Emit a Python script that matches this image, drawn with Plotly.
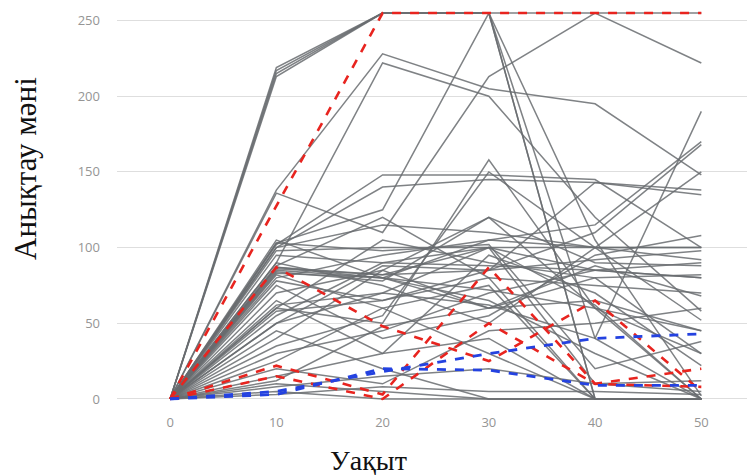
import plotly.graph_objects as go

x_vals = [0, 10, 20, 30, 40, 50]

gray_series = [
    [0, 219, 255, 255, 255, 255],
    [0, 217, 255, 255, 0, 0],
    [0, 215, 255, 255, 40, 0],
    [0, 213, 255, 255, 105, 2],
    [0, 138, 228, 205, 195, 148],
    [0, 90, 222, 200, 120, 58],
    [0, 136, 110, 213, 255, 222],
    [0, 103, 125, 255, 0, 0],
    [0, 60, 50, 158, 60, 0],
    [0, 102, 148, 148, 145, 100],
    [0, 100, 140, 145, 143, 138],
    [0, 98, 100, 100, 100, 100],
    [0, 87, 82, 85, 92, 98],
    [0, 85, 80, 105, 100, 100],
    [0, 87, 80, 65, 30, 0],
    [0, 86, 82, 100, 85, 80],
    [0, 84, 78, 120, 90, 88],
    [0, 82, 60, 30, 0, 0],
    [0, 80, 95, 105, 115, 170],
    [0, 78, 65, 85, 143, 135],
    [0, 75, 40, 55, 95, 108],
    [0, 70, 85, 120, 60, 45],
    [0, 65, 30, 40, 0, 0],
    [0, 60, 105, 90, 80, 82],
    [0, 58, 65, 80, 75, 70],
    [0, 55, 90, 100, 10, 5],
    [0, 50, 70, 62, 40, 190],
    [0, 45, 20, 0, 0, 0],
    [0, 40, 85, 60, 80, 30],
    [0, 35, 55, 150, 100, 52],
    [0, 30, 45, 70, 85, 90],
    [0, 25, 60, 75, 0, 0],
    [0, 20, 10, 45, 50, 60],
    [0, 15, 30, 95, 70, 22],
    [0, 12, 48, 60, 88, 68],
    [0, 10, 5, 0, 0, 0],
    [0, 8, 15, 20, 10, 12],
    [0, 5, 0, 0, 0, 0],
    [0, 3, 8, 5, 5, 3],
    [0, 103, 98, 102, 20, 38],
    [0, 100, 115, 110, 100, 92],
    [0, 95, 90, 88, 85, 80],
    [0, 88, 120, 80, 0, 0],
    [0, 105, 80, 60, 65, 45],
    [0, 90, 75, 50, 100, 150],
    [0, 83, 80, 72, 60, 30],
    [0, 62, 70, 100, 62, 0],
    [0, 50, 88, 85, 110, 168],
]

red_series = [
    [0, 127, 255, 255, 255, 255],
    [0, 87, 48, 25, 65, 5],
    [0, 22, 3, 87, 10, 8],
    [0, 15, 0, 50, 10, 20],
]

blue_series = [
    [0, 5, 18, 30, 40, 43],
    [0, 3, 20, 19, 9, 9],
]

y_ticks = [0, 50, 100, 150, 200, 250]
x_ticks = [0, 10, 20, 30, 40, 50]
y_title = "Анықтау мәні"
x_title = "Уақыт"

fig = go.Figure()
for s in gray_series:
    fig.add_trace(go.Scatter(x=x_vals, y=s, mode="lines",
                             line=dict(color="rgba(105,108,112,0.85)", width=1.5),
                             showlegend=False, hoverinfo="skip"))
for s in red_series:
    fig.add_trace(go.Scatter(x=x_vals, y=s, mode="lines",
                             line=dict(color="#e8241f", width=2.6, dash="dash"),
                             showlegend=False, hoverinfo="skip"))
for s in blue_series:
    fig.add_trace(go.Scatter(x=x_vals, y=s, mode="lines",
                             line=dict(color="#2442e0", width=2.8, dash="dash"),
                             showlegend=False, hoverinfo="skip"))

fig.update_layout(
    width=747, height=475,
    margin=dict(l=117, r=0, t=10, b=70),
    paper_bgcolor="white", plot_bgcolor="white",
    xaxis=dict(range=[-5, 54.3], tickvals=x_ticks, showgrid=False, zeroline=False,
               showline=False, ticks="", ticklabelstandoff=8,
               tickfont=dict(family="Open Sans", size=13, color="#959595")),
    yaxis=dict(range=[-4, 257], tickvals=y_ticks, showgrid=True, gridcolor="#dedede",
               gridwidth=1, zeroline=False, showline=False, ticks="",
               ticklabelstandoff=16,
               tickfont=dict(family="Open Sans", size=13, color="#959595")),
    annotations=[
        dict(text=y_title, x=25, y=169, xref="paper", yref="paper", showarrow=False,
             textangle=-90, font=dict(family="Liberation Serif", size=31, color="#111"),
             xanchor="center", yanchor="middle"),
        dict(text=x_title, x=368, y=460, xref="paper", yref="paper", showarrow=False,
             font=dict(family="Liberation Serif", size=28, color="#111"),
             xanchor="center", yanchor="middle"),
    ],
)
# convert pixel positions to paper coords
pw = 747 - 117 - 0
ph = 475 - 10 - 70
for a in fig.layout.annotations:
    a.x = (a.x - 117) / pw
    a.y = (475 - 70 - a.y) / ph

fig.write_html("out.html")
